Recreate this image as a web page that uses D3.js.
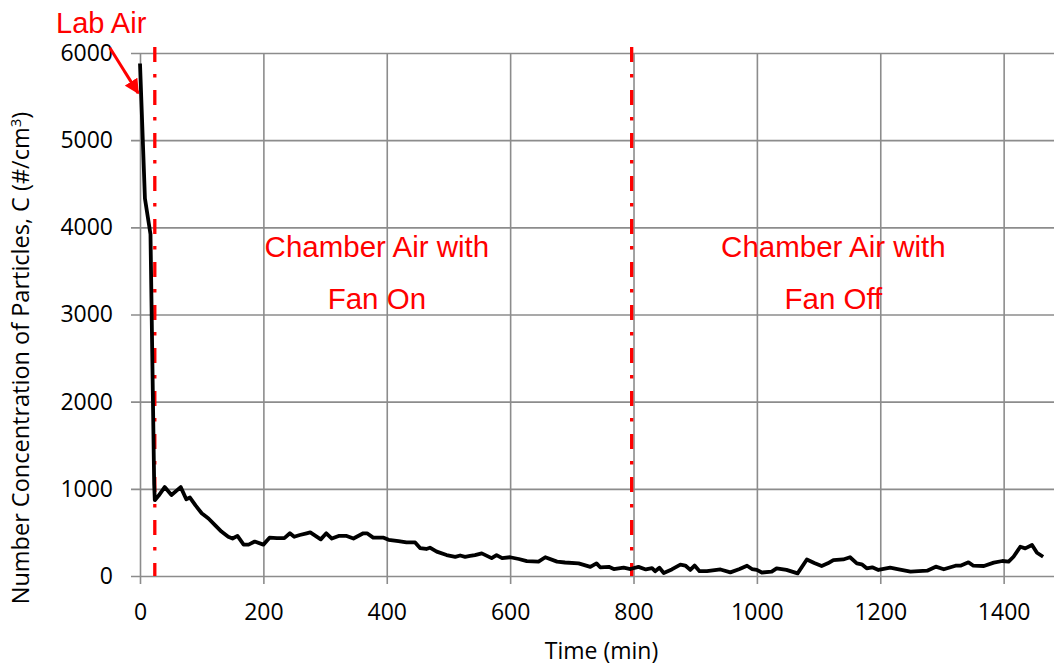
<!DOCTYPE html>
<html>
<head>
<meta charset="utf-8">
<script src="https://cdn.jsdelivr.net/npm/d3@7"></script>
<style>
  body { margin: 0; background: #fff; }
  svg { display: block; }
</style>
</head>
<body>
<svg id="chart" width="1054" height="666"></svg>
<script>
// particle counts
const timeMin = [0, 8, 17, 23, 24, 30, 40, 51, 66, 75, 81, 90, 100, 111, 122, 132, 143, 150, 158, 168,
  176, 186, 200, 210, 222, 234, 243, 250, 259, 270, 276, 293, 302, 311, 322, 335, 346, 362, 368, 378,
  395, 403, 419, 432, 446, 454, 464, 470, 481, 497, 511, 519, 527, 535, 543, 554, 570, 578, 587, 600,
  614, 627, 646, 657, 676, 689, 711, 730, 740, 746, 760, 768, 784, 795, 808, 820, 830, 835, 842, 849,
  862, 876, 884, 892, 899, 907, 919, 941, 957, 972, 984, 992, 1000, 1008, 1024, 1032, 1048, 1066, 1081, 1093,
  1105, 1115, 1124, 1140, 1151, 1162, 1170, 1178, 1187, 1197, 1216, 1230, 1249, 1262, 1276, 1290, 1303, 1322, 1330, 1343,
  1351, 1368, 1384, 1398, 1408, 1416, 1427, 1435, 1446, 1454, 1464];
const concentration = [5880, 4330, 3920, 1050, 870, 920, 1020, 930, 1020, 880, 900, 810, 720, 660, 580, 510, 450, 430, 460, 360,
  360, 395, 360, 440, 435, 435, 490, 450, 470, 490, 500, 420, 490, 430, 460, 460, 430, 490, 490, 440,
  440, 415, 400, 385, 385, 320, 310, 325, 280, 240, 220, 235, 220, 230, 240, 260, 205, 240, 205, 215,
  195, 170, 165, 215, 165, 155, 145, 105, 145, 100, 105, 80, 95, 80, 105, 75, 90, 55, 95, 35,
  75, 130, 120, 70, 120, 55, 55, 75, 42, 80, 118, 80, 70, 40, 50, 88, 70, 30, 190, 150,
  115, 145, 183, 190, 215, 145, 134, 88, 99, 69, 95, 77, 50, 55, 61, 107, 77, 118, 118, 157,
  118, 115, 153, 172, 164, 221, 336, 317, 356, 267, 221];

const xTicks = [0, 200, 400, 600, 800, 1000, 1200, 1400];
const yTicks = [0, 1000, 2000, 3000, 4000, 5000, 6000];
const phaseLines = [24, 797];   // fan on / fan off switch times
const phaseLabels = [
  { t: 384, lines: ["Chamber Air with", "Fan On"] },
  { t: 1124, lines: ["Chamber Air with", "Fan Off"] }
];

const svg = d3.select("#chart");
const plotLeft = 140, plotRight = 1053, plotTop = 53, plotBottom = 576;

const x = d3.scaleLinear().domain([0, 1480]).range([plotLeft, plotRight]);
const y = d3.scaleLinear().domain([0, 6000]).range([plotBottom, plotTop]);

const gridColor = "#8c8c8c";
const tickFont = "'Open Sans', sans-serif";

// y axis + horizontal grid
const yAxis = svg.append("g")
    .attr("transform", `translate(${plotLeft},0)`)
    .call(d3.axisLeft(y).tickValues(yTicks).tickSize(9).tickPadding(18).tickFormat(d3.format("d")));
yAxis.select(".domain").remove();
yAxis.selectAll(".tick line")
    .attr("x1", -9)
    .attr("x2", plotRight - plotLeft + 2)
    .attr("stroke", gridColor)
    .attr("stroke-width", 1.6);
yAxis.selectAll(".tick text")
    .style("font-family", tickFont)
    .style("font-size", "23px")
    .attr("fill", "#000");

// x axis + vertical grid
const xAxis = svg.append("g")
    .attr("transform", `translate(0,${plotBottom})`)
    .call(d3.axisBottom(x).tickValues(xTicks).tickSize(8).tickPadding(20).tickFormat(d3.format("d")));
xAxis.select(".domain").remove();
xAxis.selectAll(".tick line")
    .attr("y1", plotTop - plotBottom)
    .attr("y2", 8)
    .attr("stroke", gridColor)
    .attr("stroke-width", 1.6);
xAxis.selectAll(".tick text")
    .style("font-family", tickFont)
    .style("font-size", "23px")
    .attr("fill", "#000");

// red dash-dot phase markers
svg.selectAll(".phase")
    .data(phaseLines)
    .enter().append("line")
    .attr("class", "phase")
    .attr("x1", d => x(d))
    .attr("x2", d => x(d))
    .attr("y1", y(6070))
    .attr("y2", y(0))
    .attr("stroke", "#ff0000")
    .attr("stroke-width", 3.3)
    .attr("stroke-dasharray", "15,12,3.5,12.5");

// concentration line
const line = d3.line()
    .x((d, i) => x(timeMin[i]))
    .y(d => y(d));

svg.append("path")
    .datum(concentration)
    .attr("fill", "none")
    .attr("stroke", "#000")
    .attr("stroke-width", 3.8)
    .attr("stroke-linejoin", "round")
    .attr("d", line);

// annotations
const red = "#ff0000";
const annFont = "'Liberation Sans', Arial, sans-serif";

phaseLabels.forEach(p => {
    p.lines.forEach((txt, i) => {
        svg.append("text")
            .attr("x", x(p.t))
            .attr("y", 257 + i * 52)
            .attr("text-anchor", "middle")
            .style("font-family", annFont)
            .style("font-size", "29.5px")
            .attr("fill", red)
            .text(txt);
    });
});

svg.append("text")
    .attr("x", 56)
    .attr("y", 33)
    .style("font-family", annFont)
    .style("font-size", "29px")
    .attr("fill", red)
    .text("Lab Air");

svg.append("defs").append("marker")
    .attr("id", "arrowhead")
    .attr("viewBox", "0 0 10 10")
    .attr("refX", 9)
    .attr("refY", 5)
    .attr("markerWidth", 5)
    .attr("markerHeight", 5)
    .attr("markerUnits", "strokeWidth")
    .attr("orient", "auto")
    .append("path")
    .attr("d", "M0,0 L10,5 L0,10 Z")
    .attr("fill", red);

svg.append("line")
    .attr("x1", x(-49))
    .attr("y1", y(6060))
    .attr("x2", x(-3))
    .attr("y2", y(5540))
    .attr("stroke", red)
    .attr("stroke-width", 3)
    .attr("marker-end", "url(#arrowhead)");

// axis titles
svg.append("text")
    .attr("x", (plotLeft + plotRight) / 2 + 5)
    .attr("y", 659)
    .attr("text-anchor", "middle")
    .style("font-family", tickFont)
    .style("font-size", "23px")
    .text("Time (min)");

const yTitle = svg.append("text")
    .attr("transform", "translate(29,358) rotate(-90)")
    .attr("text-anchor", "middle")
    .style("font-family", tickFont)
    .style("font-size", "23.5px");
yTitle.append("tspan").text("Number Concentration of Particles, C (#/cm");
yTitle.append("tspan").attr("dy", -8).style("font-size", "15px").text("3");
yTitle.append("tspan").attr("dy", 8).text(")");
</script>
</body>
</html>
